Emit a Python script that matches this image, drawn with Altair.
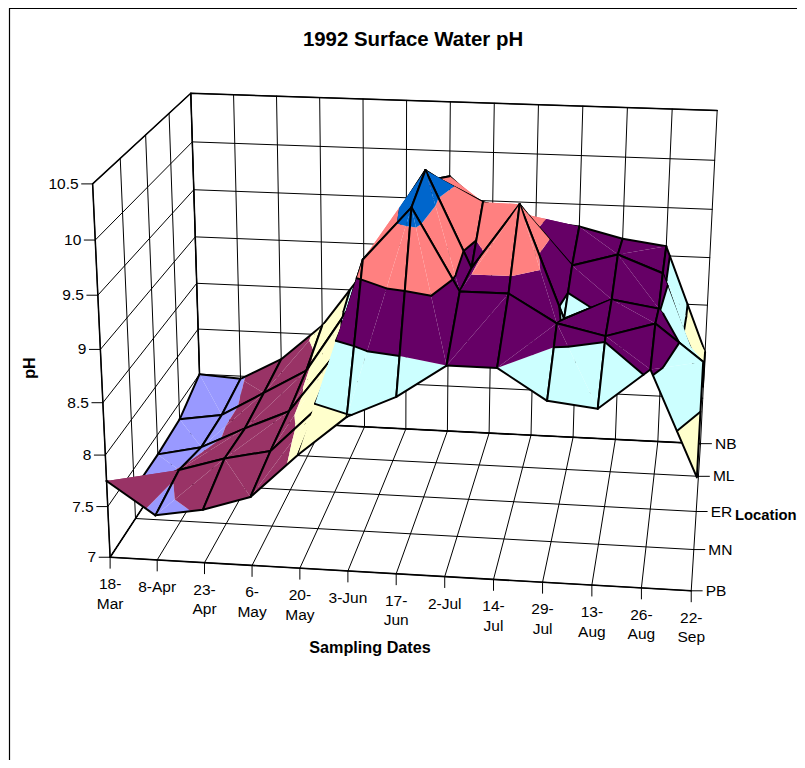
import numpy as np
import pandas as pd
import altair as alt

# ---- chart values
dates = [["18-", "Mar"], ["8-Apr"], ["23-", "Apr"], ["6-", "May"], ["20-", "May"], ["3-Jun"], ["17-", "Jun"],
         ["2-Jul"], ["14-", "Jul"], ["29-", "Jul"], ["13-", "Aug"], ["26-", "Aug"], ["22-", "Sep"]]
locations = ["PB", "MN", "ER", "ML", "NB"]
ph_ticks = ["7", "7.5", "8", "8.5", "9", "9.5", "10", "10.5"]
ph_PB = [7.75, 7.44, 7.52, 7.67, 8.10, 8.48, 8.69, 9.00, 9.00, 8.72, 8.67, 9.05, 8.08]
ph_MN = [7.30, 7.52, 7.66, 7.76, 8.20, 9.65, 10.15, 9.39, 9.39, 9.13, 9.03, 9.17, 8.83]
ph_ER = [7.30, 7.40, 7.62, 7.82, 8.40, 9.55, 10.26, 9.34, 9.97, 8.88, 9.09, 9.02, 8.35]
ph_ML = [7.33, 7.40, 7.66, 7.92, 8.60, 9.50, 9.95, 9.73, 9.62, 9.13, 9.26, 9.09, 7.95]
ph_NB = [7.50, 7.47, 7.71, 8.10, 8.70, 9.30, 9.74, 9.35, 9.31, 9.27, 9.16, 9.10, 8.00]
surface = np.array([ph_PB, ph_MN, ph_ER, ph_ML, ph_NB])
band_colors = ["#9999FF", "#993366", "#FFFFCC", "#CCFFFF", "#660066", "#FF8080", "#0066CC"]
band_edges = [7, 7.5, 8, 8.5, 9, 9.5, 10, 10.5]

W, H, M = 789, 752, 8

# ---- camera: a projective map fitted to the box's corners and ticks as seen on the page
front_x = [111, 157, 205, 253, 300, 347, 396, 444, 494, 543, 592, 641, 691]
anchors = [(i, 0, 7.0, front_x[i], 556 + 3 * i) for i in range(13)]
anchors += [(12, 1, 7.0, 694, 549), (12, 2, 7.0, 696, 512), (12, 3, 7.0, 698, 476), (12, 4, 7.0, 700, 441),
            (0, 0, 10.5, 92, 184), (0, 0, 9.0, 100, 349), (0, 0, 8.0, 105.5, 454),
            (0, 4, 7.0, 199, 421), (0, 4, 10.5, 190, 94), (12, 4, 10.5, 716, 110),
            (6, 4, 10.5, 453, 102), (6, 4, 7.0, 449.5, 431)]


def vec(i, j, ph):
    return np.array([i / 12, j / 4, (ph - 7) / 3.5, 1.0])


rows, rhs = [], []
for i, j, ph, u, v in anchors:
    X = vec(i, j, ph)
    rows.append(np.r_[X, np.zeros(4), -u * X[:3]])
    rhs.append(u)
    rows.append(np.r_[np.zeros(4), X, -v * X[:3]])
    rhs.append(v)
p = np.linalg.lstsq(np.array(rows), np.array(rhs), rcond=None)[0]
P = np.r_[p, 1.0].reshape(3, 4)


def page(i, j, ph):
    q = P @ vec(i, j, ph)
    return q[0] / q[2], q[1] / q[2]


def pt(i, j, ph):
    x, y = page(i, j, ph)
    return [round(x - M, 2), round(y - M, 2)]


features = []


def line(points, w=1.0):
    features.append({"type": "Feature", "geometry": {"type": "LineString", "coordinates": points},
                     "properties": {"fill": "transparent", "stroke": "#000000", "w": w}})


def poly(points, color):
    features.append({"type": "Feature", "geometry": {"type": "Polygon", "coordinates": [points + [points[0]]]},
                     "properties": {"fill": color, "stroke": "transparent", "w": 0}})


# frame
line([[1.5, H], [1.5, 0.5], [W, 0.5]], 1.2)

# walls and floor
ph_levels = [float(t) for t in ph_ticks]
for i in range(13):
    line([pt(i, 4, 7), pt(i, 4, 10.5)])
    line([pt(i, 0, 7), pt(i, 4, 7)])
for ph in ph_levels:
    line([pt(0, 0, ph), pt(0, 4, ph), pt(12, 4, ph)])
for j in range(5):
    line([pt(0, j, 7), pt(0, j, 10.5)])
    line([pt(0, j, 7), pt(12, j, 7)])
line([pt(0, 0, 7), pt(0, 0, 10.5), pt(0, 4, 10.5), pt(12, 4, 10.5)], 1.5)
line([pt(0, 4, 7), pt(0, 4, 10.5)], 1.5)
line([pt(0, 0, 7), pt(12, 0, 7)], 1.6)
line([pt(0, 0, 7), pt(0, 4, 7), pt(12, 4, 7)], 1.6)

# ticks
for i in range(13):
    a = pt(i, 0, 7)
    line([a, [a[0], a[1] + 11]])
for j in range(5):
    a = pt(12, j, 7)
    line([a, [a[0] + 11, a[1]]])
for ph in ph_levels:
    a = pt(0, 0, ph)
    line([a, [a[0] - 11, a[1]]])


# ---- surface
def clip(tri, level, keep_above):
    out = []
    n = len(tri)
    for k in range(n):
        a, b = tri[k], tri[(k + 1) % n]
        ina = a[2] >= level if keep_above else a[2] <= level
        inb = b[2] >= level if keep_above else b[2] <= level
        if ina:
            out.append(a)
        if ina != inb:
            f = (level - a[2]) / (b[2] - a[2])
            out.append(tuple(a[m] + f * (b[m] - a[m]) for m in range(3)))
    return out


def black_levels(col):
    return [8.5, 9.0, 9.5] if col < 7 else [8.5, 9.0]


def draw_triangle(tri, col):
    for lo, hi, color in zip(band_edges[:-1], band_edges[1:], band_colors):
        pg = clip(tri, lo, True)
        if pg:
            pg = clip(pg, hi, False)
        if len(pg) >= 3:
            poly([pt(*v) for v in pg], color)
    for level in black_levels(col):
        seg = []
        for k in range(3):
            a, b = tri[k], tri[(k + 1) % 3]
            if (a[2] - level) * (b[2] - level) < 0:
                f = (level - a[2]) / (b[2] - a[2])
                seg.append(tuple(a[m] + f * (b[m] - a[m]) for m in range(3)))
        if len(seg) == 2:
            line([pt(*seg[0]), pt(*seg[1])], 2)


for j in range(3, -1, -1):
    for i in range(12):
        a = (i, j, surface[j, i])
        b = (i + 1, j, surface[j, i + 1])
        c = (i + 1, j + 1, surface[j + 1, i + 1])
        d = (i, j + 1, surface[j + 1, i])
        # each cell folds along its higher diagonal
        if b[2] + d[2] > a[2] + c[2]:
            draw_triangle((b, c, d), i)
            line([pt(*b), pt(*c), pt(*d)], 2)
            draw_triangle((a, b, d), i)
            line([pt(*d), pt(*a), pt(*b)], 2)
        else:
            draw_triangle((a, c, d), i)
            line([pt(*a), pt(*d), pt(*c)], 2)
            draw_triangle((a, b, c), i)
            line([pt(*a), pt(*b), pt(*c)], 2)

geo = alt.Chart(alt.InlineData(values={"type": "FeatureCollection", "features": features},
                               format=alt.DataFormat(property="features", type="json"))).mark_geoshape(
    strokeJoin="round", strokeCap="round").encode(
    fill=alt.Fill("properties.fill:N", scale=None),
    stroke=alt.Stroke("properties.stroke:N", scale=None),
    strokeWidth=alt.StrokeWidth("properties.w:Q", scale=None),
).project(type="identity", scale=1, translate=[0, 0])

# ---- text
tick_rows, right_rows, left_rows = [], [], []
for i, lines in enumerate(dates):
    x, y = pt(i, 0, 7)
    for k, s in enumerate(lines):
        tick_rows.append({"px": x, "py": y + 27 + 19.5 * k, "t": s})
for j, s in enumerate(locations):
    x, y = pt(12, j, 7)
    left_rows.append({"px": x + 14.5, "py": y, "t": s})
for s in ph_ticks:
    x, y = pt(0, 0, float(s))
    right_rows.append({"px": x - 14, "py": y, "t": s})

xs = alt.X("px:Q", scale=alt.Scale(domain=[0, W], range=[0, W]), axis=None)
ys = alt.Y("py:Q", scale=alt.Scale(domain=[0, H], range=[0, H]), axis=None)
font = "Liberation Sans"


def texts(rows, **kw):
    return alt.Chart(pd.DataFrame(rows)).mark_text(font=font, baseline="middle", **kw).encode(x=xs, y=ys, text="t:N")


layers = [
    geo,
    texts(tick_rows, align="center", fontSize=15.5, color="#000"),
    texts(left_rows, align="left", fontSize=15.5, color="#000"),
    texts(right_rows, align="right", fontSize=15.5, color="#000"),
    texts([{"px": 413 - M, "py": 40 - M, "t": "1992 Surface Water pH"}], align="center", fontSize=20.4,
          fontWeight="bold", color="#000"),
    texts([{"px": 370 - M, "py": 648 - M, "t": "Sampling Dates"}], align="center", fontSize=16.2,
          fontWeight="bold", color="#000"),
    texts([{"px": 735 - M, "py": 516 - M, "t": "Location"}], align="left", fontSize=14.8,
          fontWeight="bold", color="#000"),
    texts([{"px": 30 - M, "py": 368 - M, "t": "pH"}], align="center", fontSize=16.2, angle=270,
          fontWeight="bold", color="#000"),
]

chart = alt.layer(*layers).properties(
    width=W, height=H, padding=0, autosize=alt.AutoSizeParams(type="none"), background="white"
).configure_view(stroke=None)

chart.save("out.html", embed_options={"renderer": "svg", "actions": False})
